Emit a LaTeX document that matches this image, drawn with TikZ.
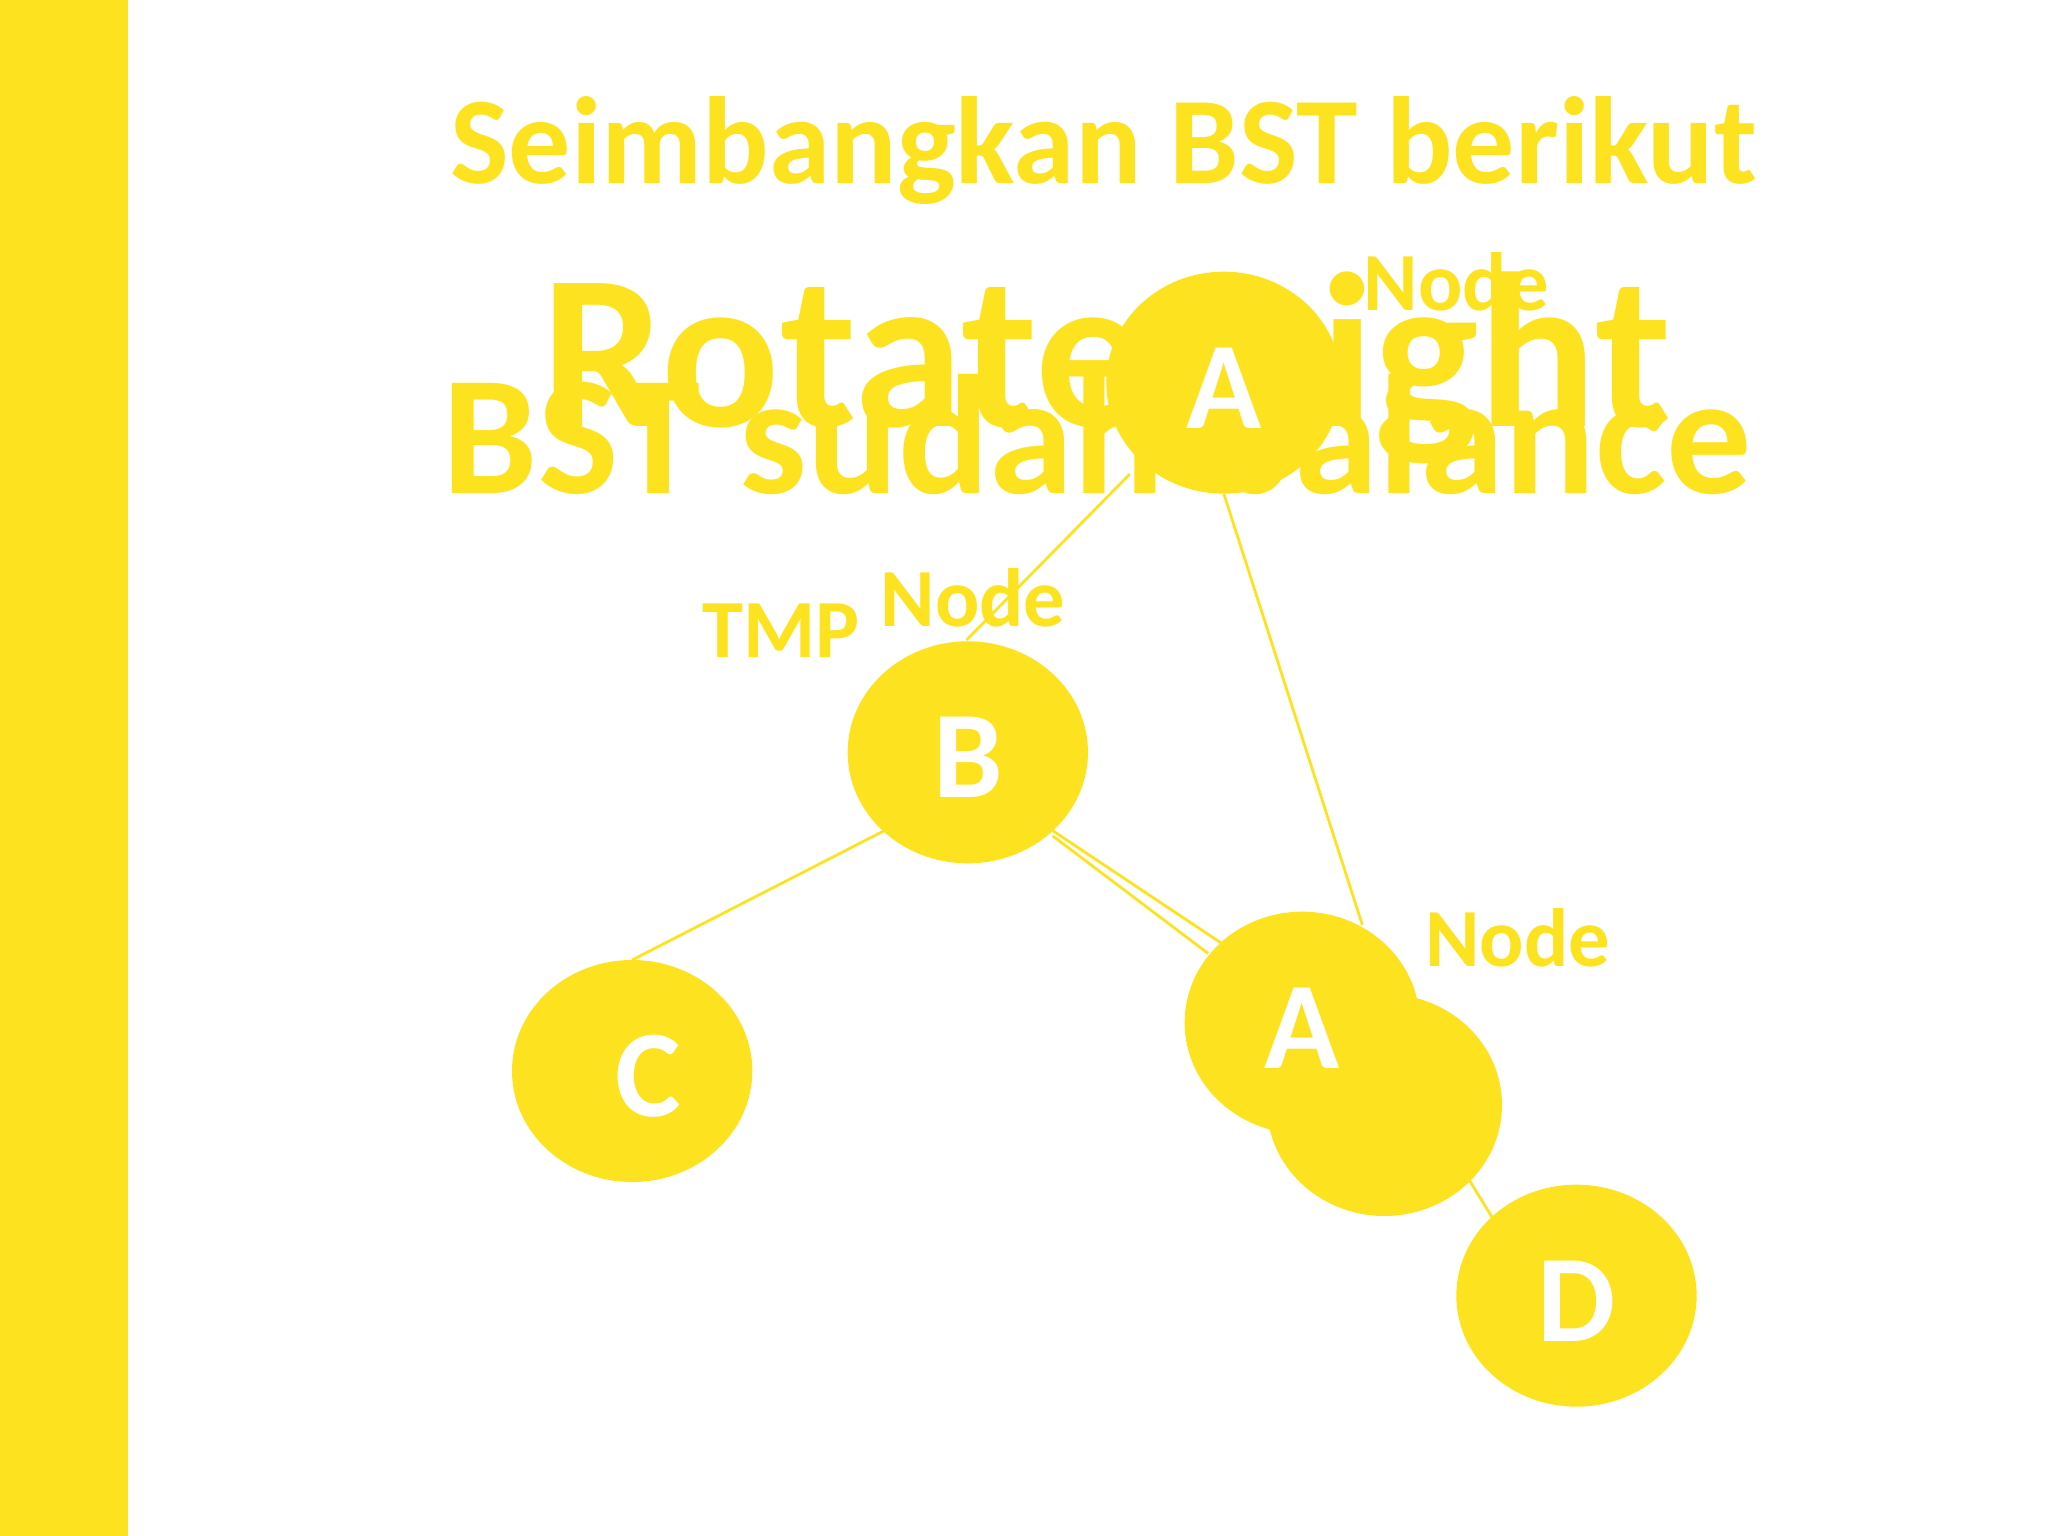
\documentclass[tikz,border=0pt]{standalone}
\usepackage{fontspec}
\setmainfont{Carlito}
\definecolor{ylw}{HTML}{FDE31F}
\begin{document}
\begin{tikzpicture}[x=0.01cm,y=-0.01cm,
  lbl/.style={text=ylw,font=\bfseries},
  conn/.style={draw=ylw,line width=0.6pt},
  letter/.style={text=white,font=\bfseries\fontsize{27}{27}\selectfont}]
\useasboundingbox (0,0) rectangle (1568,1176);
\fill[ylw] (0,0) rectangle (98,1176);
% connectors
\draw[conn] (937,378) coordinate (p1) -- (1043,708) coordinate (p2);
\draw[conn] (865,363) coordinate (p3) -- (740,490) coordinate (p4);
\draw[conn] (677,636) coordinate (p5) -- (484,735) coordinate (p6);
\draw[conn] (806,636) coordinate (p7) -- (935,722) coordinate (p8);
\draw[conn] (806,640) coordinate (p9) -- (925,730) coordinate (p10);
\draw[conn] (1080,830) coordinate (p11) -- (1143,933) coordinate (p12);
% texts
\node[lbl,font=\bfseries\fontsize{27}{27}\selectfont] (title) at (845,115) {Seimbangkan BST berikut};
\node[lbl,font=\bfseries\fontsize{48}{48}\selectfont] (rot) at (847,282) {Rotate Right};
\node[lbl,font=\bfseries\fontsize{37}{37}\selectfont] (bal) at (840,333) {BST sudah balance};
\node[lbl,font=\bfseries\fontsize{18}{18}\selectfont] (n1) at (1115,216) {Node};
\node[lbl,font=\bfseries\fontsize{18}{18}\selectfont] (tmp) at (598,483) {TMP};
\node[lbl,font=\bfseries\fontsize{18}{18}\selectfont] (n2) at (745,458) {Node};
\node[lbl,font=\bfseries\fontsize{18}{18}\selectfont] (n3) at (1162,718) {Node};
% circles
\fill[ylw] (937,293) ellipse (90 and 85);
\fill[ylw] (741,576) ellipse (92 and 85);
\fill[ylw] (484,820) ellipse (92 and 85);
\fill[ylw] (1060,846) ellipse (90 and 85);
\fill[ylw] (997,783) ellipse (90 and 85);
\fill[ylw] (1207,992) ellipse (92 and 85);
\node[letter] (A1) at (937,297) {A};
\node[letter] (B) at (741,580) {B};
\node[letter] (C) at (496,824) {C};
\node[letter] (A2) at (997,787) {A};
\node[letter] (D) at (1207,996) {D};
\end{tikzpicture}
\end{document}
